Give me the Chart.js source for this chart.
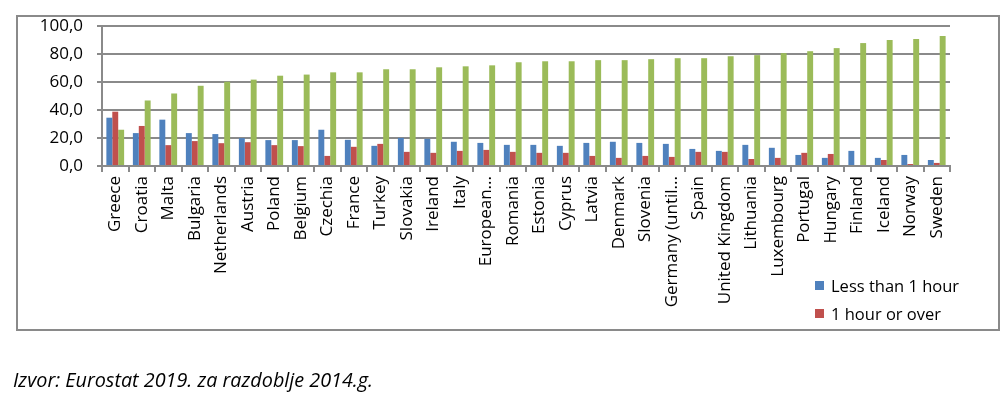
<!DOCTYPE html>
<html>
<head>
<meta charset="utf-8">
<script src="https://cdn.jsdelivr.net/npm/chart.js@4.4.1/dist/chart.umd.min.js"></script>
<style>
  html, body { margin:0; padding:0; background:#fff; }
  #wrap { position:relative; width:1005px; height:394px; overflow:hidden; font-family:'Open Sans', 'Lato', sans-serif; }
  #frame { position:absolute; left:16px; top:15px; width:980px; height:312px; border:2px solid #8a8a8a; }
  #chart { position:absolute; left:0; top:0; }
  #legend { position:absolute; left:815px; top:271px; font-size:16.5px; color:#000; }
  #legend .item { display:flex; align-items:center; height:28px; }
  #legend .box { width:9px; height:9px; margin-right:7px; }
  #caption { position:absolute; left:13px; top:366px; font-size:19.8px; font-style:italic; color:#000; }
</style>
</head>
<body>
<div id="wrap">
  <div id="frame"></div>
  <canvas id="chart" width="1005" height="394"></canvas>
  <div id="legend"></div>
  <div id="caption">Izvor: Eurostat 2019. za razdoblje 2014.g.</div>
</div>
<script>
// data (%)
const countries = ['Greece','Croatia','Malta','Bulgaria','Netherlands','Austria','Poland','Belgium','Czechia','France','Turkey','Slovakia','Ireland','Italy','European...','Romania','Estonia','Cyprus','Latvia','Denmark','Slovenia','Germany (until...','Spain','United Kingdom','Lithuania','Luxembourg','Portugal','Hungary','Finland','Iceland','Norway','Sweden'];
const lessThanHour = [34.5,23.5,33.1,23.5,22.8,19.9,18.5,18.5,25.9,18.7,14.4,20.1,19.4,17.3,16.5,15.1,15.1,14.4,16.5,17.3,16.5,15.8,12.2,10.8,15.1,13.0,7.9,5.8,10.8,5.8,7.9,4.3];
const hourOrOver = [38.8,28.6,14.9,17.8,16.3,17.0,14.9,14.2,7.2,13.7,15.8,10.1,9.4,10.8,11.5,10.1,9.4,9.4,7.2,5.8,7.2,6.5,10.1,10.1,5.0,5.8,9.4,8.6,0,4.3,1.4,2.2];
const notApplicable = [25.9,46.8,51.8,57.3,60.2,61.7,64.5,65.3,66.9,66.9,69.1,69.1,70.5,71.2,71.9,74.1,74.8,74.8,75.6,75.6,76.3,77.0,77.0,78.4,79.2,80.6,82.0,84.2,87.8,90.0,90.7,92.8];
const yTickLabels = ['0,0','20,0','40,0','60,0','80,0','100,0'];

const gridCol = '#8a8a8a';
const tickFont = { family:'Open Sans', size:17 };

const chart = new Chart(document.getElementById('chart').getContext('2d'), {
  type: 'bar',
  data: {
    labels: countries,
    datasets: [
      { label:'Less than 1 hour', data: lessThanHour, backgroundColor:'#4f81bd', showInLegend:true },
      { label:'1 hour or over', data: hourOrOver, backgroundColor:'#c0504d', showInLegend:true },
      { label:'Not applicable', data: notApplicable, backgroundColor:'#9bbb59', showInLegend:false }
    ]
  },
  options: {
    responsive:false, animation:false,
    layout:{ padding:{ left:0, top:26, right:55, bottom:62 } },
    datasets:{ bar:{ barPercentage:1, categoryPercentage:0.67 } },
    plugins:{ legend:{ display:false }, tooltip:{ enabled:false } },
    scales:{
      x:{
        offset:true,
        grid:{ offset:true, drawOnChartArea:false, drawTicks:true, tickLength:6, color:gridCol, lineWidth:2 },
        border:{ display:true, color:gridCol, width:2 },
        ticks:{ autoSkip:false, maxRotation:90, minRotation:90, padding:4, color:'#000', font:tickFont },
        afterFit:(s)=>{ s.height = 166; }
      },
      y:{
        min:0, max:100,
        grid:{ color:gridCol, lineWidth:2, tickLength:5 },
        border:{ display:true, color:gridCol, width:2 },
        ticks:{ stepSize:20, padding:14, color:'#000', font:tickFont,
          callback:(v, i)=> yTickLabels[i] },
        afterFit:(s)=>{ s.width = 102; }
      }
    }
  }
});

// html legend, only the first two series like the original
const leg = document.getElementById('legend');
leg.innerHTML = chart.data.datasets.filter(d=>d.showInLegend).map(d=>`
  <div class="item"><span class="box" style="background:${d.backgroundColor}"></span>${d.label}</div>
`).join('');
</script>
</body>
</html>
